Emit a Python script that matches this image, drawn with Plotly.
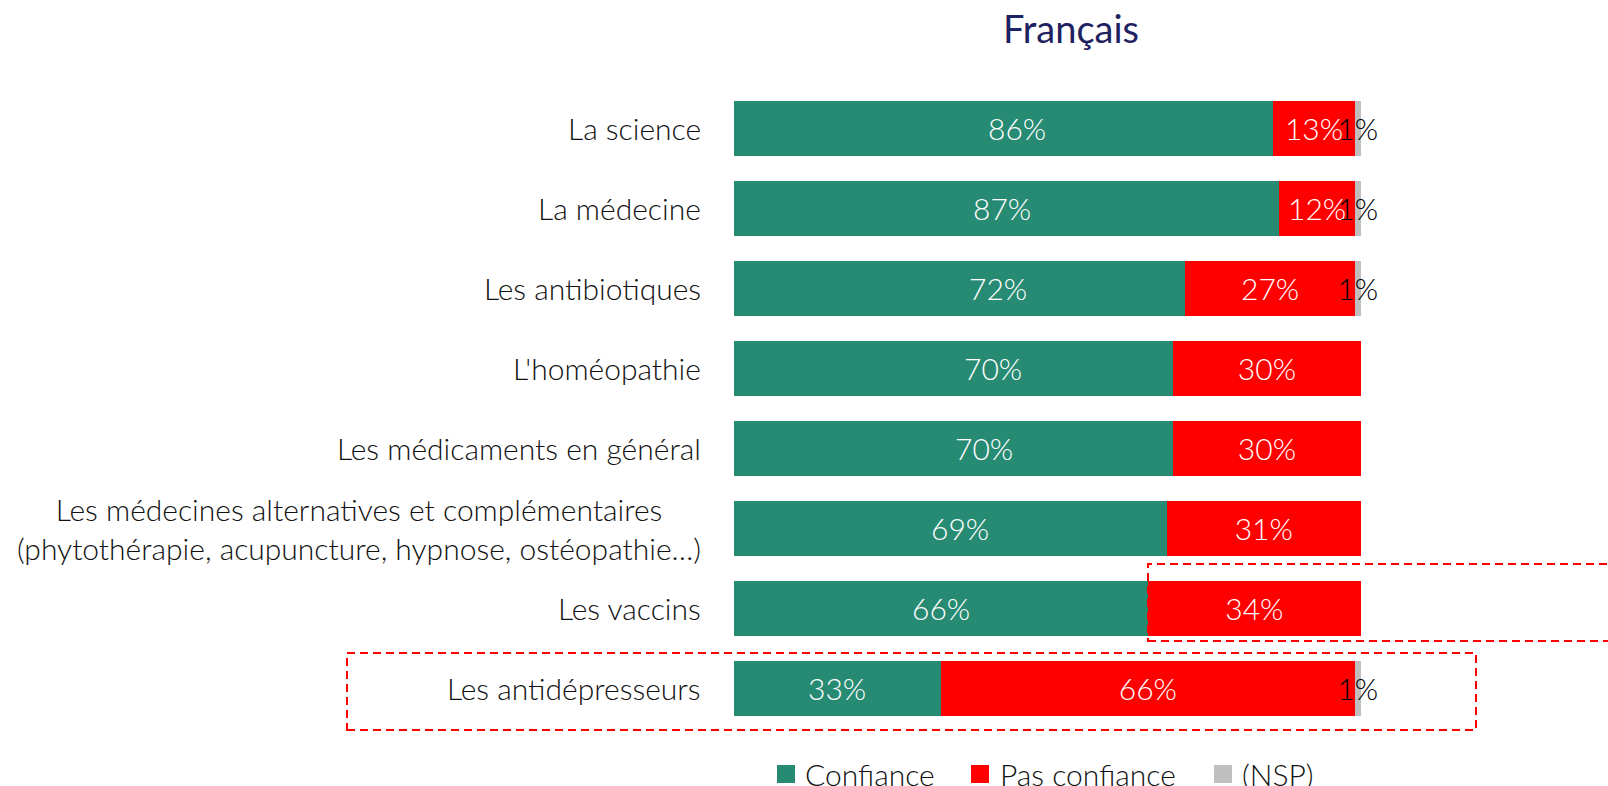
import plotly.graph_objects as go

categories = [
    "La science",
    "La médecine",
    "Les antibiotiques",
    "L'homéopathie",
    "Les médicaments en général",
    "Les médecines alternatives et complémentaires<br>(phytothérapie, acupuncture, hypnose, ostéopathie…)",
    "Les vaccins",
    "Les antidépresseurs",
]
confiance = [86, 87, 72, 70, 70, 69, 66, 33]
pas_confiance = [13, 12, 27, 30, 30, 31, 34, 66]
nsp = [1, 1, 1, 0, 0, 0, 0, 1]

series_names = ["Confiance", "Pas confiance", "(NSP)"]
series_colors = ["#278A72", "#FF0000", "#BFBFBF"]
text_colors = ["white", "white", "black"]

# horizontal nudges (px) of the "Confiance" labels, as placed in the original
confiance_label_shift = [13, -5, 38, 40, 31, 10, 0, 0]

FONT = "Lato"
FS = 30
W, H = 1608, 786
ML, MR, MT, MB = 734, 247, 88, 58
PW, PH = W - ML - MR, H - MT - MB

def px_x(p):
    return (p - ML) / PW

def px_y(p):
    return (H - MB - p) / PH

fig = go.Figure()
for i, (name, vals, col, tcol) in enumerate(zip(series_names, [confiance, pas_confiance, nsp], series_colors, text_colors)):
    fig.add_trace(go.Bar(
        y=categories, x=vals, name=name, orientation="h",
        marker=dict(color=col, line=dict(width=0)),
        text=[f"{v}%" if (v > 0 and i > 0) else "" for v in vals],
        textposition="inside", insidetextanchor="middle",
        textangle=0, constraintext="none", cliponaxis=False,
        textfont=dict(family=FONT, size=FS, color=tcol, weight=300),
        showlegend=False, hoverinfo="skip",
    ))

annotations = []
# Confiance labels (nudged like in the original)
for c, v, s in zip(categories, confiance, confiance_label_shift):
    annotations.append(dict(
        x=v / 2, y=c, xref="x", yref="y", text=f"{v}%", showarrow=False,
        xanchor="center", yanchor="middle", xshift=s,
        font=dict(family=FONT, size=FS, color="white", weight=300),
    ))

for c in categories:
    annotations.append(dict(
        x=0, y=c, xref="x", yref="y", text=c, showarrow=False,
        xanchor="right", yanchor="middle", align="center", xshift=-31,
        font=dict(family=FONT, size=FS, color="#111111", weight=300),
    ))

# custom legend
legend_sq_px = [777, 971, 1214]
legend_tx_px = [803, 998, 1240]
legend_y_px = 774
shapes = []
for name, col, sq, tx in zip(series_names, series_colors, legend_sq_px, legend_tx_px):
    shapes.append(dict(type="rect", xref="paper", yref="paper",
                       x0=px_x(sq), x1=px_x(sq + 18),
                       y0=px_y(legend_y_px + 9), y1=px_y(legend_y_px - 9),
                       fillcolor=col, line=dict(width=0)))
    annotations.append(dict(x=px_x(tx), y=px_y(legend_y_px), xref="paper", yref="paper",
                            text=name, showarrow=False, xanchor="left", yanchor="middle",
                            font=dict(family=FONT, size=FS, color="#111111", weight=300)))

# dashed highlight boxes
dash = dict(color="#FF0000", width=2, dash="8px,5px")
shapes.append(dict(type="rect", xref="paper", yref="paper",
                   x0=px_x(347), x1=px_x(1476), y0=px_y(730), y1=px_y(653),
                   line=dash, fillcolor="rgba(0,0,0,0)"))
shapes.append(dict(type="rect", xref="paper", yref="paper",
                   x0=px_x(1148), x1=px_x(1625), y0=px_y(641), y1=px_y(564),
                   line=dash, fillcolor="rgba(0,0,0,0)"))

fig.update_layout(
    width=W, height=H,
    margin=dict(l=ML, r=MR, t=MT, b=MB),
    barmode="stack", bargap=1 - 55 / 80,
    plot_bgcolor="white", paper_bgcolor="white",
    title=dict(text="Français", x=1071 / W, xref="container", xanchor="center",
               y=1 - 30 / H, yref="container", yanchor="middle",
               font=dict(family=FONT, size=38, color="#1F2260")),
    xaxis=dict(range=[0, 100], visible=False, fixedrange=True),
    yaxis=dict(categoryorder="array", categoryarray=categories, autorange="reversed",
               showticklabels=False, showgrid=False, zeroline=False, fixedrange=True),
    annotations=annotations, shapes=shapes,
)

fig.write_html("out.html", config={"displayModeBar": False},
               post_script="document.body.style.margin='0';document.body.style.overflow='hidden';")
